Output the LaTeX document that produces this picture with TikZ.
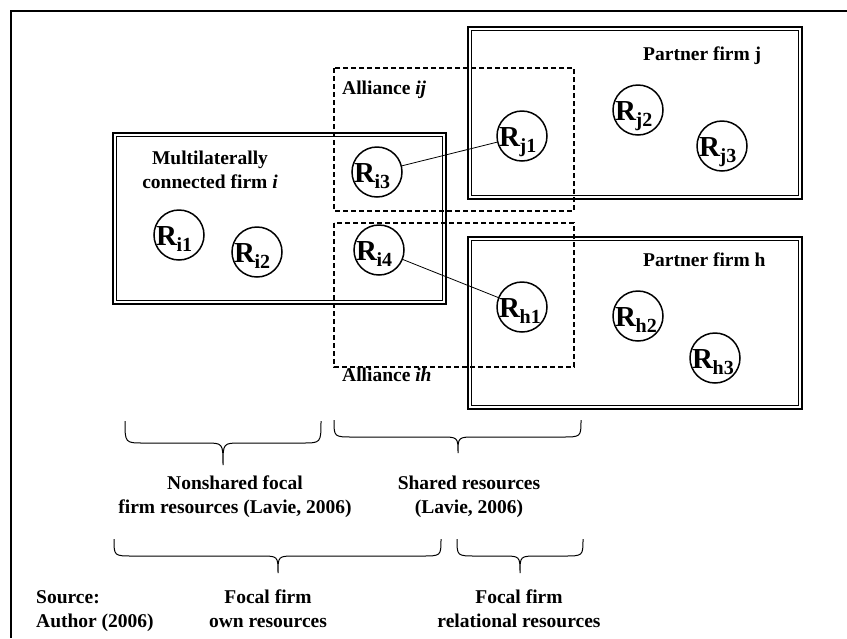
\documentclass[tikz,border=0pt]{standalone}
\usepackage{fontspec}
\setmainfont{Liberation Serif}
\newcommand\rlab[1]{{\fontsize{29}{29}\selectfont R}\kern-0.5pt\raisebox{-6pt}{\fontsize{20}{20}\selectfont #1}}
% curly brace opening upwards, tip pointing down
% #1 left x, #2 tip x, #3 right x, #4 end y, #5 flat y, #6 tip y
\newcommand\curlybrace[6]{%
  \draw[bracestyle] (#1,#4) .. controls (#1,#5) .. ({#1+19},#5) -- ({#2-18},#5)
    .. controls (#2,#5) .. (#2,#6) .. controls (#2,#5) .. ({#2+18},#5)
    -- ({#3-19},#5) .. controls (#3,#5) .. (#3,#4);}
% firm rectangle: heavy outer line with a thin inner line
\newcommand\firmrect[4]{%
  \draw[line width=2.6pt] (#1,#2) rectangle (#3,#4);
  \draw[line width=0.9pt] ({#1+3.6},{#2+3.6}) rectangle ({#3-3.6},{#4-3.6});}
\begin{document}
\begin{tikzpicture}[x=1pt,y=-1pt,
  every node/.style={font=\bfseries\fontsize{19.5}{24}\selectfont, inner sep=0pt},
  res/.style={circle, draw, line width=1.5pt, minimum size=50pt, inner sep=0pt},
  rtext/.style={anchor=base west},
  alliance/.style={draw, line width=1.5pt, dash pattern=on 5pt off 3pt},
  tie/.style={line width=0.8pt},
  bracestyle/.style={line width=1pt},
  frame/.style={line width=2pt}]
\useasboundingbox (0,0) rectangle (847,638);

% page frame (top and left rules)
\draw[frame] (847,11) -- (11,11) -- (11,638);

% alliances
\draw[alliance] (334,68) rectangle (574,211);
\draw[alliance] (334,223) rectangle (574,367);

% firms
\firmrect{113}{133}{446}{304}
\firmrect{468}{27}{802}{199}
\firmrect{468}{237}{802}{409}

% titles
\node[anchor=base west] (tij) at (342,94) {Alliance \textit{ij}};
\node[anchor=base west] (tih) at (342,381) {Alliance \textit{ih}};
\node[anchor=base west] (tpj) at (643,60) {Partner firm j};
\node[anchor=base west] (tph) at (643,266) {Partner firm h};
\node[align=center] (tfi) at (210,170) {Multilaterally\\connected firm \textit{i}};

% resources
\node[res] (ri1) at (179,235) {};
\node[res] (ri2) at (257,252) {};
\node[res] (ri3) at (377,172) {};
\node[res] (ri4) at (379,250) {};
\node[res] (rj1) at (522,136) {};
\node[res] (rj2) at (638,110) {};
\node[res] (rj3) at (722,146) {};
\node[res] (rh1) at (522,307) {};
\node[res] (rh2) at (638,316) {};
\node[res] (rh3) at (715,358) {};

\foreach \r in {i1,i2,i3,i4,j1,j2,j3,h1,h2,h3}
  \node[rtext] (t\r) at ([shift={(-23,10)}]r\r.center) {\rlab{\r}};

% alliance ties
\draw[tie] (ri3) -- (rj1);
\draw[tie] (ri4) -- (rh1);

% braces
\curlybrace{125}{223}{321}{421}{443}{465}
\curlybrace{334}{458}{581}{420}{437}{453}
\curlybrace{114}{278}{441}{539}{556}{573}
\curlybrace{457}{520}{583}{539}{556}{573}

% brace captions
\node[align=center] (cns) at (235,497) {Nonshared focal\\firm resources (Lavie, 2006)};
\node[align=center] (csh) at (469,497) {Shared resources\\(Lavie, 2006)};
\node[align=center] (cown) at (268,609) {Focal firm\\own resources};
\node[align=center] (crel) at (519,609) {Focal firm\\relational resources};
\node[align=left, anchor=west] (src) at (36,611) {Source:\\Author (2006)};
\end{tikzpicture}
\end{document}
